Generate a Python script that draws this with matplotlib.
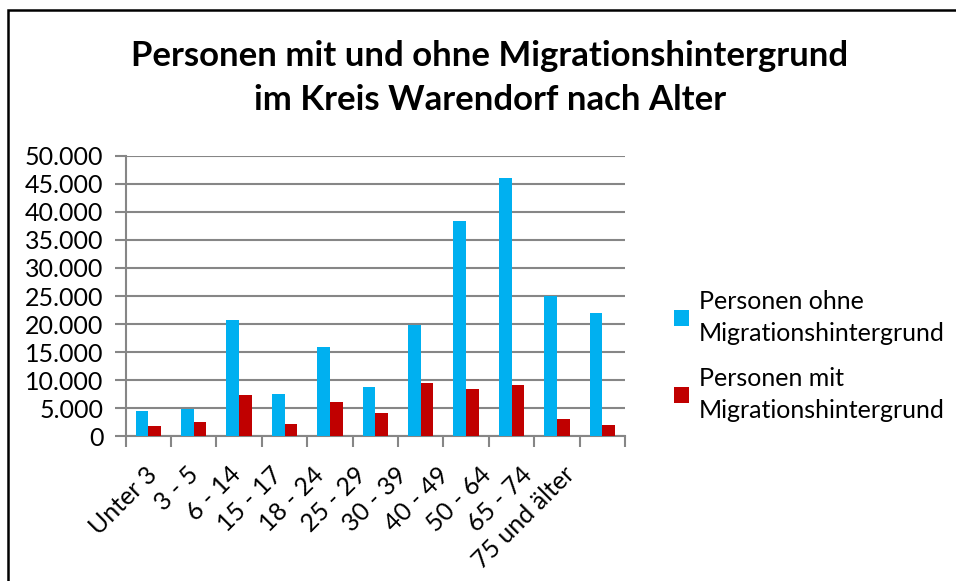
import matplotlib
matplotlib.use("Agg")
import matplotlib.pyplot as plt
import matplotlib.transforms as mtrans
import numpy as np
from matplotlib.patches import Rectangle
from matplotlib.ticker import FuncFormatter

categories = ["Unter 3", "3 - 5", "6 - 14", "15 - 17", "18 - 24", "25 - 29",
              "30 - 39", "40 - 49", "50 - 64", "65 - 74", "75 und älter"]
ohne = [4450, 4800, 20800, 7550, 15850, 8800, 19850, 38300, 46100, 24950, 21950]
mit = [1850, 2500, 7350, 2150, 6100, 4100, 9450, 8450, 9100, 3100, 2000]
series_names = ["Personen ohne\nMigrationshintergrund", "Personen mit\nMigrationshintergrund"]
title = "Personen mit und ohne Migrationshintergrund\nim Kreis Warendorf nach Alter"

plt.rcParams['font.family'] = ['Lato', 'DejaVu Sans']

W, H = 956, 581
fig = plt.figure(figsize=(W / 100, H / 100), dpi=100)
fig.patch.set_facecolor("white")

# outer frame
fig.add_artist(Rectangle((8 / W, -0.05), 1.2, 1 - 10 / H + 0.05, transform=fig.transFigure,
                         fill=False, edgecolor="black", linewidth=1.8))

ax = fig.add_axes([125.7 / W, 1 - 436.3 / H, (625 - 125.7) / W, (436.3 - 155.7) / H])
x = np.arange(len(categories))
bw = 0.28
c_blue = "#00B0F0"
c_red = "#C00000"
ax.bar(x - bw / 2, ohne, bw, color=c_blue, label=series_names[0], zorder=3)
ax.bar(x + bw / 2, mit, bw, color=c_red, label=series_names[1], zorder=3)

ax.set_xlim(-0.5, len(categories) - 0.5)
ax.set_ylim(0, 50000)
ax.set_yticks(np.arange(0, 50001, 5000))
ax.yaxis.set_major_formatter(FuncFormatter(lambda v, p: f"{int(v):,}".replace(",", ".")))
gc = "#868686"
ax.grid(axis="y", color=gc, linewidth=1.5, zorder=0)
for s in ["top", "right"]:
    ax.spines[s].set_visible(False)
for s in ["left", "bottom"]:
    ax.spines[s].set_color(gc)
    ax.spines[s].set_linewidth(1.5)
ax.set_xticks(np.arange(-0.5, len(categories) + 0.5, 1), minor=False)
ax.set_xticklabels([])
ax.set_xticks(x, minor=True)
labels = ax.set_xticklabels(categories, minor=True, rotation=45, ha="right",
                            rotation_mode="anchor", fontsize=18)
ax.tick_params(axis="x", which="major", length=8, width=1.5, color=gc, direction="out")
ax.tick_params(axis="x", which="minor", length=0, pad=19)
ax.tick_params(axis="y", length=8, width=1.5, color=gc, direction="out", labelsize=18, pad=8)
for i, lab in enumerate(labels):
    dx = -(3 + 3.7 * i) / 100.0
    lab.set_transform(lab.get_transform() + mtrans.ScaledTranslation(dx, 0, fig.dpi_scale_trans))

fig.text(490 / W, 1 - 78 / H, title, ha="center", va="center", fontsize=25, fontweight="bold",
         linespacing=1.46)

leg = ax.legend(loc="center left", bbox_to_anchor=(674 / W, 1 - 356 / H), bbox_transform=fig.transFigure,
                frameon=False, fontsize=18, handlelength=0.6, handleheight=0.6, handletextpad=0.4,
                labelspacing=0.85, borderpad=0, borderaxespad=0)
for t in leg.get_texts():
    t.set_linespacing(1.5)

fig.savefig("out.png", dpi=100)
